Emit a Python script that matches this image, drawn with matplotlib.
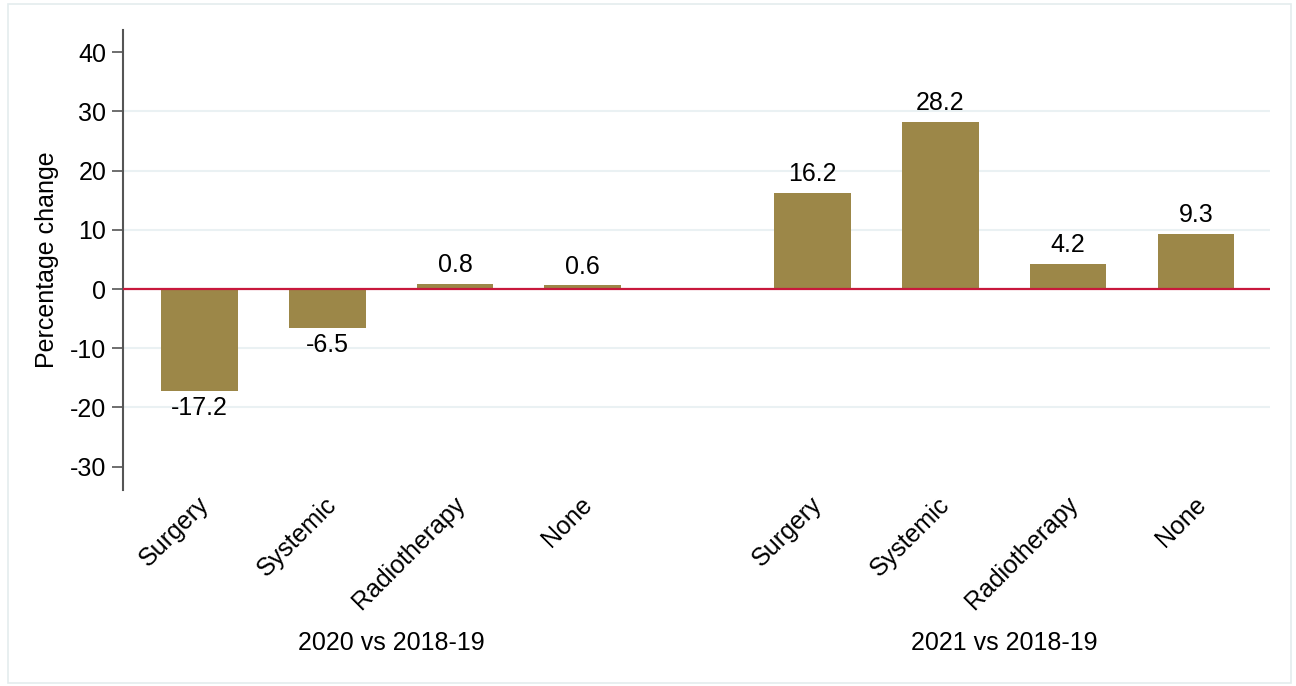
import matplotlib
matplotlib.use('Agg')
from matplotlib import pyplot as plt
from matplotlib.patches import Rectangle
import matplotlib.transforms as mtransforms

# Data
groups = ['2020 vs 2018-19', '2021 vs 2018-19']
categories = ['Surgery', 'Systemic', 'Radiotherapy', 'None']
values_2020 = [-17.2, -6.5, 0.8, 0.6]
values_2021 = [16.2, 28.2, 4.2, 9.3]
yticks = [-30, -20, -10, 0, 10, 20, 30, 40]

plt.rcParams['font.family'] = ['Liberation Sans', 'DejaVu Sans']
plt.rcParams['axes.unicode_minus'] = False
bar_color = '#9C8748'
text_size = 18

fig = plt.figure(figsize=(12.96, 6.86), dpi=100)
fig.patches.append(Rectangle((0.006, 0.004), 0.99, 0.99, transform=fig.transFigure,
                             fill=False, edgecolor='#E4ECEE', linewidth=1.2))
ax = fig.add_axes([0.0949, 0.286, 0.885, 0.670])

gap = 1.8
x1 = [i for i in range(len(categories))]
x2 = [i + len(categories) - 1 + gap for i in range(len(categories))]

# grid lines (zero line drawn in red)
for y in yticks:
    if y not in (0, -30, 40):
        ax.axhline(y, color='#EAF1F3', linewidth=1.5, zorder=0)
ax.axhline(0, color='#C8183C', linewidth=1.6, zorder=3)

for xs, vals in [(x1, values_2020), (x2, values_2021)]:
    ax.bar(xs, vals, width=0.6, color=bar_color, zorder=2)
    for x, v in zip(xs, vals):
        if v >= 0:
            ax.annotate(f'{v:.1f}', (x, v), xytext=(0, 5), textcoords='offset points',
                        ha='center', va='bottom', fontsize=text_size)
        else:
            ax.annotate(f'{v:.1f}', (x, v), xytext=(0, -4), textcoords='offset points',
                        ha='center', va='top', fontsize=text_size)

ax.set_xlim(-0.6, 8.38)
ax.set_ylim(-33.9, 43.7)
ax.set_yticks(yticks)
ax.set_xticks([])
ax.tick_params(axis='y', direction='out', length=8, width=1.2, color='#555555',
               labelsize=text_size, pad=4)
for s in ['top', 'right', 'bottom']:
    ax.spines[s].set_visible(False)
ax.spines['left'].set_color('#555555')
ax.spines['left'].set_linewidth(1.5)
ax.set_ylabel('Percentage change', fontsize=text_size, labelpad=8)

# rotated category labels and group labels
trans = mtransforms.blended_transform_factory(ax.transData, ax.transAxes)
for xs in [x1, x2]:
    for x, c in zip(xs, categories):
        ax.text(x - 0.02, -0.005, c, transform=trans, rotation=45, ha='right', va='top',
                rotation_mode='anchor', fontsize=text_size)
for xs, g in zip([x1, x2], groups):
    ax.text((xs[0] + xs[-1]) / 2, -0.333, g, transform=trans, ha='center', va='center',
            fontsize=text_size)

plt.savefig('out.png', dpi=100)
